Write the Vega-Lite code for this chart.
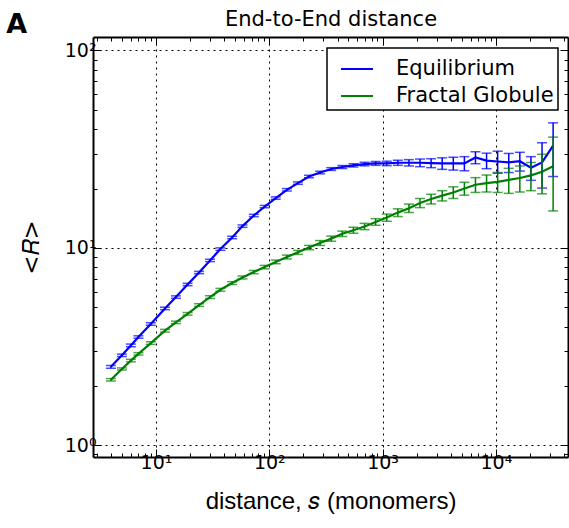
{
  "$schema": "https://vega.github.io/schema/vega-lite/v6.json",
  "autosize": {"type": "none"},
  "padding": {"left": 93, "top": 37, "right": 1, "bottom": 71},
  "width": 475,
  "height": 420,
  "background": "white",
  "title": {"text": "A", "anchor": "start", "frame": "bounds", "fontSize": 27, "fontWeight": "bold", "font": "DejaVu Sans", "color": "black", "offset": -30, "dx": -14},
  "config": {"view": {"stroke": null}},
  "data": {"values": [
    {"model": "Equilibrium", "s": 4, "R": 2.50, "err": 0.04},
    {"model": "Equilibrium", "s": 5, "R": 2.86, "err": 0.04},
    {"model": "Equilibrium", "s": 6, "R": 3.21, "err": 0.05},
    {"model": "Equilibrium", "s": 7, "R": 3.54, "err": 0.05},
    {"model": "Equilibrium", "s": 9, "R": 4.12, "err": 0.06},
    {"model": "Equilibrium", "s": 12, "R": 4.94, "err": 0.07},
    {"model": "Equilibrium", "s": 15, "R": 5.64, "err": 0.08},
    {"model": "Equilibrium", "s": 19, "R": 6.53, "err": 0.09},
    {"model": "Equilibrium", "s": 24, "R": 7.51, "err": 0.1},
    {"model": "Equilibrium", "s": 30, "R": 8.65, "err": 0.12},
    {"model": "Equilibrium", "s": 37, "R": 9.87, "err": 0.14},
    {"model": "Equilibrium", "s": 47, "R": 11.3, "err": 0.16},
    {"model": "Equilibrium", "s": 58, "R": 12.9, "err": 0.18},
    {"model": "Equilibrium", "s": 73, "R": 14.6, "err": 0.2},
    {"model": "Equilibrium", "s": 91, "R": 16.2, "err": 0.22},
    {"model": "Equilibrium", "s": 114, "R": 17.9, "err": 0.25},
    {"model": "Equilibrium", "s": 143, "R": 19.7, "err": 0.28},
    {"model": "Equilibrium", "s": 179, "R": 21.3, "err": 0.3},
    {"model": "Equilibrium", "s": 224, "R": 23.0, "err": 0.33},
    {"model": "Equilibrium", "s": 281, "R": 24.1, "err": 0.36},
    {"model": "Equilibrium", "s": 352, "R": 25.1, "err": 0.4},
    {"model": "Equilibrium", "s": 441, "R": 25.7, "err": 0.45},
    {"model": "Equilibrium", "s": 553, "R": 26.2, "err": 0.5},
    {"model": "Equilibrium", "s": 693, "R": 26.6, "err": 0.55},
    {"model": "Equilibrium", "s": 868, "R": 26.8, "err": 0.6},
    {"model": "Equilibrium", "s": 1088, "R": 26.8, "err": 0.7},
    {"model": "Equilibrium", "s": 1363, "R": 27.0, "err": 0.8},
    {"model": "Equilibrium", "s": 1708, "R": 27.0, "err": 1.0},
    {"model": "Equilibrium", "s": 2139, "R": 27.0, "err": 1.2},
    {"model": "Equilibrium", "s": 2680, "R": 26.9, "err": 1.4},
    {"model": "Equilibrium", "s": 3357, "R": 26.8, "err": 1.8},
    {"model": "Equilibrium", "s": 4207, "R": 26.8, "err": 2.0},
    {"model": "Equilibrium", "s": 5271, "R": 26.8, "err": 2.2},
    {"model": "Equilibrium", "s": 6604, "R": 28.7, "err": 2.0},
    {"model": "Equilibrium", "s": 8274, "R": 27.7, "err": 2.5},
    {"model": "Equilibrium", "s": 10366, "R": 27.4, "err": 3.5},
    {"model": "Equilibrium", "s": 12988, "R": 27.1, "err": 3.0},
    {"model": "Equilibrium", "s": 16272, "R": 27.5, "err": 3.0},
    {"model": "Equilibrium", "s": 20387, "R": 25.5, "err": 3.5},
    {"model": "Equilibrium", "s": 25543, "R": 27.1, "err": 7.0},
    {"model": "Equilibrium", "s": 32000, "R": 33.0, "err": 10.0},
    {"model": "Fractal Globule", "s": 4, "R": 2.15, "err": 0.03},
    {"model": "Fractal Globule", "s": 5, "R": 2.44, "err": 0.03},
    {"model": "Fractal Globule", "s": 6, "R": 2.69, "err": 0.04},
    {"model": "Fractal Globule", "s": 7, "R": 2.91, "err": 0.04},
    {"model": "Fractal Globule", "s": 9, "R": 3.30, "err": 0.05},
    {"model": "Fractal Globule", "s": 12, "R": 3.81, "err": 0.06},
    {"model": "Fractal Globule", "s": 15, "R": 4.20, "err": 0.06},
    {"model": "Fractal Globule", "s": 19, "R": 4.64, "err": 0.07},
    {"model": "Fractal Globule", "s": 24, "R": 5.14, "err": 0.08},
    {"model": "Fractal Globule", "s": 30, "R": 5.64, "err": 0.09},
    {"model": "Fractal Globule", "s": 37, "R": 6.14, "err": 0.1},
    {"model": "Fractal Globule", "s": 47, "R": 6.64, "err": 0.11},
    {"model": "Fractal Globule", "s": 58, "R": 7.09, "err": 0.12},
    {"model": "Fractal Globule", "s": 73, "R": 7.55, "err": 0.14},
    {"model": "Fractal Globule", "s": 91, "R": 8.0, "err": 0.16},
    {"model": "Fractal Globule", "s": 114, "R": 8.5, "err": 0.18},
    {"model": "Fractal Globule", "s": 143, "R": 9.0, "err": 0.2},
    {"model": "Fractal Globule", "s": 179, "R": 9.5, "err": 0.22},
    {"model": "Fractal Globule", "s": 224, "R": 10.05, "err": 0.25},
    {"model": "Fractal Globule", "s": 281, "R": 10.6, "err": 0.3},
    {"model": "Fractal Globule", "s": 352, "R": 11.15, "err": 0.33},
    {"model": "Fractal Globule", "s": 441, "R": 11.8, "err": 0.37},
    {"model": "Fractal Globule", "s": 553, "R": 12.3, "err": 0.42},
    {"model": "Fractal Globule", "s": 693, "R": 12.85, "err": 0.47},
    {"model": "Fractal Globule", "s": 868, "R": 13.55, "err": 0.52},
    {"model": "Fractal Globule", "s": 1088, "R": 14.25, "err": 0.6},
    {"model": "Fractal Globule", "s": 1363, "R": 15.1, "err": 0.68},
    {"model": "Fractal Globule", "s": 1708, "R": 15.9, "err": 0.78},
    {"model": "Fractal Globule", "s": 2139, "R": 16.9, "err": 0.9},
    {"model": "Fractal Globule", "s": 2680, "R": 17.7, "err": 1.0},
    {"model": "Fractal Globule", "s": 3357, "R": 18.4, "err": 1.1},
    {"model": "Fractal Globule", "s": 4207, "R": 19.1, "err": 1.3},
    {"model": "Fractal Globule", "s": 5271, "R": 20.0, "err": 1.5},
    {"model": "Fractal Globule", "s": 6604, "R": 20.9, "err": 1.8},
    {"model": "Fractal Globule", "s": 8274, "R": 21.3, "err": 2.1},
    {"model": "Fractal Globule", "s": 10366, "R": 21.6, "err": 2.5},
    {"model": "Fractal Globule", "s": 12988, "R": 22.1, "err": 3.2},
    {"model": "Fractal Globule", "s": 16272, "R": 22.6, "err": 3.4},
    {"model": "Fractal Globule", "s": 20387, "R": 23.3, "err": 3.8},
    {"model": "Fractal Globule", "s": 25543, "R": 24.3, "err": 5.5},
    {"model": "Fractal Globule", "s": 32000, "R": 25.9, "err": 10.5}
  ]},
  "layer": [
    {
      "mark": {"type": "line", "strokeWidth": 2.2, "clip": true},
      "encoding": {
        "x": {
          "field": "s", "type": "quantitative",
          "scale": {"type": "log", "domain": [2.78, 43300], "nice": false},
          "axis": {
            "orient": "bottom",
            "values": [3,4,5,6,7,8,9,10,20,30,40,50,60,70,80,90,100,200,300,400,500,600,700,800,900,1000,2000,3000,4000,5000,6000,7000,8000,9000,10000,20000,30000,40000],
            "labelExpr": "abs(log(datum.value)/LN10 - round(log(datum.value)/LN10)) < 0.000001 ? '10' + ['⁰','¹','²','³','⁴','⁵'][round(log(datum.value)/LN10)] : ''",
            "labelFont": "DejaVu Sans", "labelFontSize": 19, "labelColor": "black", "labelPadding": 4,
            "labelOverlap": false, "labelFlush": false,
            "tickColor": "black", "tickWidth": 1,
            "tickSize": {"condition": {"test": "abs(log(datum.value)/LN10 - round(log(datum.value)/LN10)) < 0.000001", "value": -8}, "value": -4},
            "grid": true, "gridColor": "black", "gridDash": [2, 4], "gridWidth": 1,
            "gridOpacity": {"condition": {"test": "abs(log(datum.value)/LN10 - round(log(datum.value)/LN10)) < 0.000001", "value": 1}, "value": 0},
            "domainColor": "black", "domainWidth": 2,
            "title": "distance, 𝑠 (monomers)", "titleFont": "Liberation Sans", "titleFontSize": 24, "titleFontWeight": "normal", "titleColor": "black", "titlePadding": 13
          }
        },
        "y": {
          "field": "R", "type": "quantitative",
          "scale": {"type": "log", "domain": [0.874, 117], "nice": false},
          "axis": {
            "orient": "left",
            "values": [0.9,1,2,3,4,5,6,7,8,9,10,20,30,40,50,60,70,80,90,100],
            "labelExpr": "abs(log(datum.value)/LN10 - round(log(datum.value)/LN10)) < 0.000001 ? '10' + ['⁰','¹','²','³','⁴','⁵'][round(log(datum.value)/LN10)] : ''",
            "labelFont": "DejaVu Sans", "labelFontSize": 19, "labelColor": "black", "labelPadding": 5,
            "labelOverlap": false, "labelFlush": false,
            "tickColor": "black", "tickWidth": 1,
            "tickSize": {"condition": {"test": "abs(log(datum.value)/LN10 - round(log(datum.value)/LN10)) < 0.000001", "value": -8}, "value": -4},
            "grid": true, "gridColor": "black", "gridDash": [2, 4], "gridWidth": 1,
            "gridOpacity": {"condition": {"test": "abs(log(datum.value)/LN10 - round(log(datum.value)/LN10)) < 0.000001", "value": 1}, "value": 0},
            "domainColor": "black", "domainWidth": 2,
            "title": "<𝑅>", "titleFont": "DejaVu Sans", "titleFontSize": 23, "titleFontWeight": "normal", "titleColor": "black", "titlePadding": 21
          }
        },
        "color": {
          "field": "model", "type": "nominal",
          "scale": {"domain": ["Equilibrium", "Fractal Globule"], "range": ["#0000ff", "#008000"]},
          "legend": {
            "orient": "none", "legendX": 234, "legendY": 11, "title": null,
            "symbolType": "stroke", "symbolSize": 1024, "symbolStrokeWidth": 2,
            "labelFont": "DejaVu Sans", "labelFontSize": 21, "labelColor": "black", "labelOffset": 22, "labelLimit": 400,
            "padding": 4, "symbolOffset": 9, "rowPadding": 0,
            "strokeColor": "black", "fillColor": "white",
            "encode": {"legend": {"update": {"strokeWidth": {"value": 1.5}}}}
          }
        }
      }
    },
    {
      "mark": {"type": "errorbar", "ticks": true, "size": 10, "thickness": 1.5, "clip": true},
      "encoding": {
        "x": {
          "field": "s", "type": "quantitative",
          "axis": {
            "orient": "top",
            "values": [3,4,5,6,7,8,9,10,20,30,40,50,60,70,80,90,100,200,300,400,500,600,700,800,900,1000,2000,3000,4000,5000,6000,7000,8000,9000,10000,20000,30000,40000],
            "labels": false, "grid": false,
            "tickColor": "black", "tickWidth": 1,
            "tickSize": {"condition": {"test": "abs(log(datum.value)/LN10 - round(log(datum.value)/LN10)) < 0.000001", "value": -8}, "value": -4},
            "domainColor": "black", "domainWidth": 2,
            "title": "End-to-End distance", "titleFont": "DejaVu Sans", "titleFontSize": 21, "titleFontWeight": "normal", "titleColor": "black", "titlePadding": 7
          }
        },
        "y": {
          "field": "R", "type": "quantitative",
          "axis": {
            "orient": "right",
            "values": [0.9,1,2,3,4,5,6,7,8,9,10,20,30,40,50,60,70,80,90,100],
            "labels": false, "grid": false,
            "tickColor": "black", "tickWidth": 1,
            "tickSize": {"condition": {"test": "abs(log(datum.value)/LN10 - round(log(datum.value)/LN10)) < 0.000001", "value": -8}, "value": -4},
            "domainColor": "black", "domainWidth": 2,
            "title": null
          }
        },
        "yError": {"field": "err"},
        "color": {"field": "model", "type": "nominal", "legend": null}
      }
    }
  ],
  "resolve": {"axis": {"x": "independent", "y": "independent"}}
}
